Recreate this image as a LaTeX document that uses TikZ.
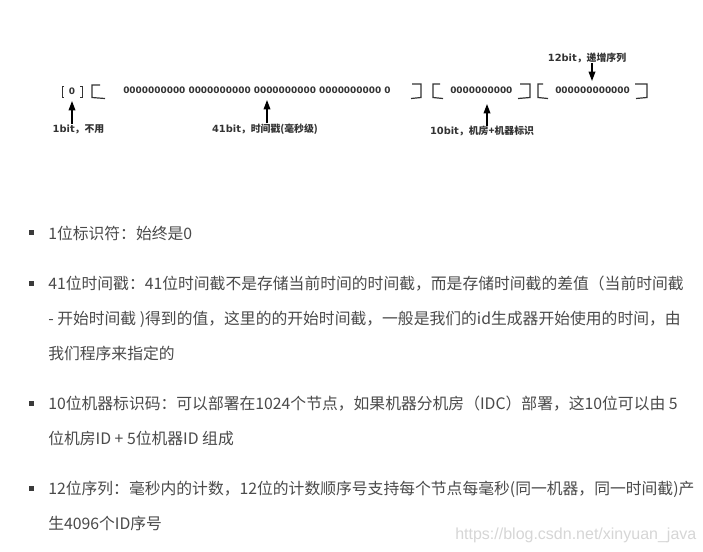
\documentclass[tikz,border=0pt]{standalone}
\usepackage{fontspec}
\setmainfont{Noto Sans CJK SC}
\newfontfamily\dvsans{DejaVu Sans}
\newfontfamily\wmfont{Liberation Sans}
\usetikzlibrary{arrows.meta}
\definecolor{tcol}{HTML}{4A4A4A}
\definecolor{bcol}{HTML}{3A3A3A}
\definecolor{dcol}{HTML}{333333}
\definecolor{wcol}{HTML}{D6D6D6}
\newcommand\zerfont{\dvsans\bfseries\fontsize{6.7}{8}\selectfont}
\newcommand\labfont{\bfseries\fontsize{7.4}{9}\selectfont}
\begin{document}
\begin{tikzpicture}[x=0.75pt,y=-0.75pt,
  txt/.style={anchor=base west, inner sep=0pt, font=\fontsize{11.85}{14}\selectfont, text=tcol},
  lab/.style={inner sep=0pt, font=\labfont, text=dcol},
  zeros/.style={inner sep=0pt, font=\zerfont, text=dcol},
  brk/.style={draw=dcol, line width=0.9pt, line join=miter},
  sbrk/.style={draw=dcol, line width=0.65pt, line join=miter},
  arr/.style={draw=black, line width=1pt, -{Triangle[width=5pt,length=7pt]}},
  wm/.style={anchor=base west, inner sep=0pt, font=\wmfont\fontsize{12}{14}\selectfont, text=wcol}]
\fill[white] (0,0) rectangle (703,551);
\useasboundingbox (0,0) rectangle (703,551);

% ---- top diagram ----
\node[zeros] (z0) at (72,91) {0};
\draw[sbrk] (64,86) -- (62,86) -- (62,97) -- (64,97);
\draw[sbrk] (80,86) -- (82,86) -- (82,97) -- (80,97);
\draw[brk] (100,85) -- (92,85) -- (92,97.5) -- (105,98.5);
\node[zeros, anchor=west] (z1) at (123,90.5) {0000000000 0000000000 0000000000 0000000000 0};
\draw[brk] (412,84) -- (421,84) -- (421,97.5) -- (411,98.5);
\draw[brk] (440,84) -- (433,84) -- (433,97.5) -- (443,98.5);
\node[zeros, anchor=west] (z2) at (450,90.5) {0000000000};
\draw[brk] (520,84) -- (530,84) -- (530,97.5) -- (518,98.5);
\draw[brk] (543,84) -- (538,84) -- (538,97.5) -- (548,98.5);
\node[zeros, anchor=west] (z3) at (555,90.5) {000000000000};
\draw[brk] (635,84) -- (647,84) -- (647,97.5) -- (636,98.5);

\node[lab] (l1) at (78.5,129) {{\dvsans\bfseries 1bit}，不用};
\node[lab] (l2) at (265,129) {{\dvsans\bfseries 41bit}，时间戳(毫秒级)};
\node[lab] (l3) at (482,131) {{\dvsans\bfseries 10bit}，机房+机器标识};
\node[lab] (l4) at (587,58) {{\dvsans\bfseries 12bit}，递增序列};
\coordinate (t1) at (72,101);
\coordinate (t2) at (267,100);
\coordinate (t3) at (487,104);
\coordinate (t4) at (592,81);
\draw[arr] (l1.north -| t1) -- (t1);
\draw[arr] (l2.north -| t2) -- (t2);
\draw[arr] (l3.north -| t3) -- (t3);
\draw[arr] (l4.south -| t4) -- (t4);

% ---- bullet list ----
\foreach \yy in {232.5,283.5,403.5,488.5}
  \fill[bcol] (29,\yy-2.5) rectangle (34,\yy+2.5);
\node[txt] (p1) at (48,239) {1位标识符：始终是0};
\node[txt] (p2) at (48,289) {41位时间戳：41位时间截不是存储当前时间的时间截，而是存储时间截的差值（当前时间截};
\node[txt] (p3) at (48,324) {- 开始时间截 )得到的值，这里的的开始时间截，一般是我们的id生成器开始使用的时间，由};
\node[txt] (p4) at (48,359) {我们程序来指定的};
\node[txt] (p5) at (48,409) {10位机器标识码：可以部署在1024个节点，如果机器分机房（IDC）部署，这10位可以由 5};
\node[txt] (p6) at (48,444) {位机房ID + 5位机器ID 组成};
\node[txt] (p7) at (48,494) {12位序列：毫秒内的计数，12位的计数顺序号支持每个节点每毫秒(同一机器，同一时间截)产};
\node[txt] (p8) at (48,529) {生4096个ID序号};
\node[wm] (w) at (455,539) {https://blog.csdn.net/xinyuan\_java};
\end{tikzpicture}
\end{document}
